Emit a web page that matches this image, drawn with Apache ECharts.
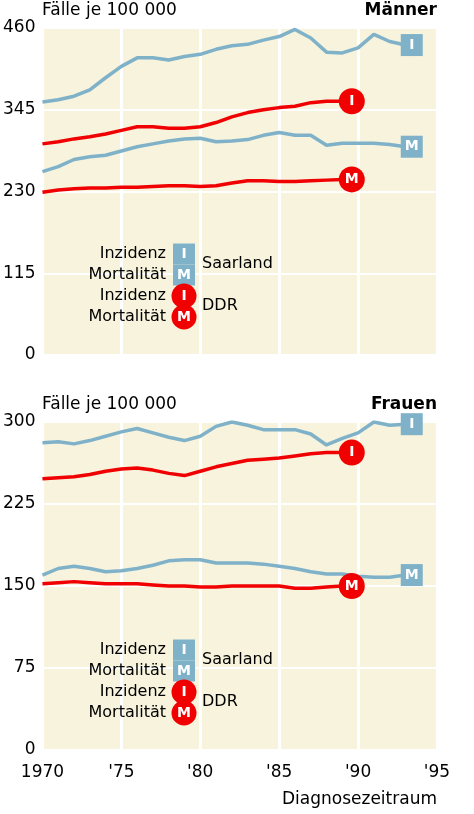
<!DOCTYPE html>
<html><head><meta charset="utf-8">
<script src="https://cdn.jsdelivr.net/npm/echarts@6/dist/echarts.min.js"></script>
<style>html,body{margin:0;padding:0;background:#fff}#c{width:474px;height:814px}</style>
</head><body><div id="c"></div>
<script>
const yearsSaar = [1970,1971,1972,1973,1974,1975,1976,1977,1978,1979,1980,1981,1982,1983,1984,1985,1986,1987,1988,1989,1990,1991,1992,1993];
const yearsDDR = yearsSaar.slice(0,20);
const menSaarI = [356,359,364,373,390,406,418,418,415,420,423,430,435,437,443,448,458,446,426,425,432,451,441,436];
const menSaarM = [258,265,275,279,281,287,293,297,301,304,305,300,301,303,309,313,309,309,295,298,298,298,296,293];
const menDDRI = [297,300,304,307,311,316,321,321,319,319,321,327,335,341,345,348,350,355,357,357];
const menDDRM = [229,232,234,235,235,236,236,237,238,238,237,238,242,245,245,244,244,245,246,247];
const womSaarI = [281,282,280,283,287,291,294,290,286,283,287,296,300,297,293,293,293,289,279,285,290,300,297,298];
const womSaarM = [160,166,168,166,163,164,166,169,173,174,174,171,171,171,170,168,166,163,161,161,159,158,158,160];
const womDDRI = [248,249,250,252,255,257,258,256,253,251,255,259,262,265,266,267,269,271,272,272];
const womDDRM = [152,153,154,153,152,152,152,151,150,150,149,149,150,150,150,150,148,148,149,150];
const menTicks = [0,115,230,345,460];
const womTicks = [0,75,150,225,300];
const xTicks = [1970,1975,1980,1985,1990,1995];
const saarEndYear = 1993.4, ddrEndYear = 1989.6;

const BLUE = '#7fb2c9', RED = '#f00000', FONT = 'DejaVu Sans';
const pair = (xs, ys) => xs.map((x,i)=>[x, ys[i]]);
const chart = echarts.init(document.getElementById('c'));

function xAxis(gi, show) {
  return {type:'value', gridIndex:gi, min:1970, max:1995, interval:5,
    axisLine:{show:false}, axisTick:{show:false},
    axisLabel:{show:show, color:'#000', fontFamily:FONT, fontSize:17, margin:14,
      formatter:v=> v===1970 ? '1970' : "'" + String(v).slice(2)},
    splitLine:{show:true, lineStyle:{color:'#ffffff', width:3}}};
}
function yAxis(gi, ticks) {
  return {type:'value', gridIndex:gi, min:0, max:ticks[ticks.length-1], interval:ticks[1],
    axisLine:{show:false}, axisTick:{show:false},
    axisLabel:{color:'#000', fontFamily:FONT, fontSize:17, margin:7},
    splitLine:{show:true, lineStyle:{color:'#ffffff', width:2}}};
}
function line(gi, data, color) {
  return {type:'line', xAxisIndex:gi, yAxisIndex:gi, data, symbol:'none', silent:true,
    lineStyle:{color, width:3.5}, z:3};
}
function endMark(gi, x, y, txt, saar) {
  return {type:'scatter', xAxisIndex:gi, yAxisIndex:gi, data:[[x,y]], silent:true, z:5,
    symbol: saar ? 'rect' : 'circle', symbolSize: saar ? [22,22] : 26,
    itemStyle:{color: saar ? BLUE : RED, opacity:1},
    label:{show:true, position:'inside', formatter:txt, color:'#fff', fontWeight:'bold', fontFamily:FONT, fontSize:14}};
}
function legend(top) {
  const els = [];
  const rows = [['Inzidenz','I',true],['Mortalität','M',true],['Inzidenz','I',false],['Mortalität','M',false]];
  rows.forEach((r,i)=>{
    const cy = top + i*21;
    els.push({type:'text', z:100, x:166, y:cy, style:{text:r[0], font:'16px '+FONT, fill:'#000', align:'right', verticalAlign:'middle'}});
    if (r[2]) els.push({type:'rect', z:100, shape:{x:173, y:cy-10.5, width:22, height:21}, style:{fill:BLUE}});
    else els.push({type:'circle', z:100, shape:{cx:184, cy:cy, r:12.5}, style:{fill:RED}});
    els.push({type:'text', z:101, x:184, y:cy, style:{text:r[1], font:'bold 14px '+FONT, fill:'#fff', align:'center', verticalAlign:'middle'}});
  });
  els.push({type:'text', z:100, x:202, y:top+10, style:{text:'Saarland', font:'16px '+FONT, fill:'#000', verticalAlign:'middle'}});
  els.push({type:'text', z:100, x:202, y:top+52, style:{text:'DDR', font:'16px '+FONT, fill:'#000', verticalAlign:'middle'}});
  return els;
}
chart.setOption({
  animation:false,
  grid:[
    {left:42, right:37, top:28, height:327, show:true, backgroundColor:'#f7f3dc', borderWidth:0},
    {left:42, right:37, top:422, height:328, show:true, backgroundColor:'#f7f3dc', borderWidth:0}
  ],
  xAxis:[xAxis(0,false), xAxis(1,true)],
  yAxis:[yAxis(0,menTicks), yAxis(1,womTicks)],
  series:[
    line(0, pair(yearsSaar, menSaarI), BLUE), line(0, pair(yearsSaar, menSaarM), BLUE),
    line(0, pair(yearsDDR, menDDRI), RED), line(0, pair(yearsDDR, menDDRM), RED),
    endMark(0, saarEndYear, menSaarI[menSaarI.length-1], 'I', true),
    endMark(0, saarEndYear, menSaarM[menSaarM.length-1], 'M', true),
    endMark(0, ddrEndYear, menDDRI[menDDRI.length-1], 'I', false),
    endMark(0, ddrEndYear, menDDRM[menDDRM.length-1], 'M', false),
    line(1, pair(yearsSaar, womSaarI), BLUE), line(1, pair(yearsSaar, womSaarM), BLUE),
    line(1, pair(yearsDDR, womDDRI), RED), line(1, pair(yearsDDR, womDDRM), RED),
    endMark(1, saarEndYear, womSaarI[womSaarI.length-1], 'I', true),
    endMark(1, saarEndYear, womSaarM[womSaarM.length-1], 'M', true),
    endMark(1, ddrEndYear, womDDRI[womDDRI.length-1], 'I', false),
    endMark(1, ddrEndYear, womDDRM[womDDRM.length-1], 'M', false)
  ],
  graphic:[
    {type:'text', z:100, left:42, top:2, style:{text:'Fälle je 100 000', font:'17px '+FONT, fill:'#000'}},
    {type:'text', z:100, right:37, top:2, style:{text:'Männer', font:'bold 17px '+FONT, fill:'#000'}},
    {type:'text', z:100, left:42, top:396, style:{text:'Fälle je 100 000', font:'17px '+FONT, fill:'#000'}},
    {type:'text', z:100, right:37, top:396, style:{text:'Frauen', font:'bold 17px '+FONT, fill:'#000'}},
    {type:'text', z:100, right:37, top:791, style:{text:'Diagnosezeitraum', font:'17px '+FONT, fill:'#000'}},
    ...legend(254), ...legend(650)
  ]
});
</script></body></html>
